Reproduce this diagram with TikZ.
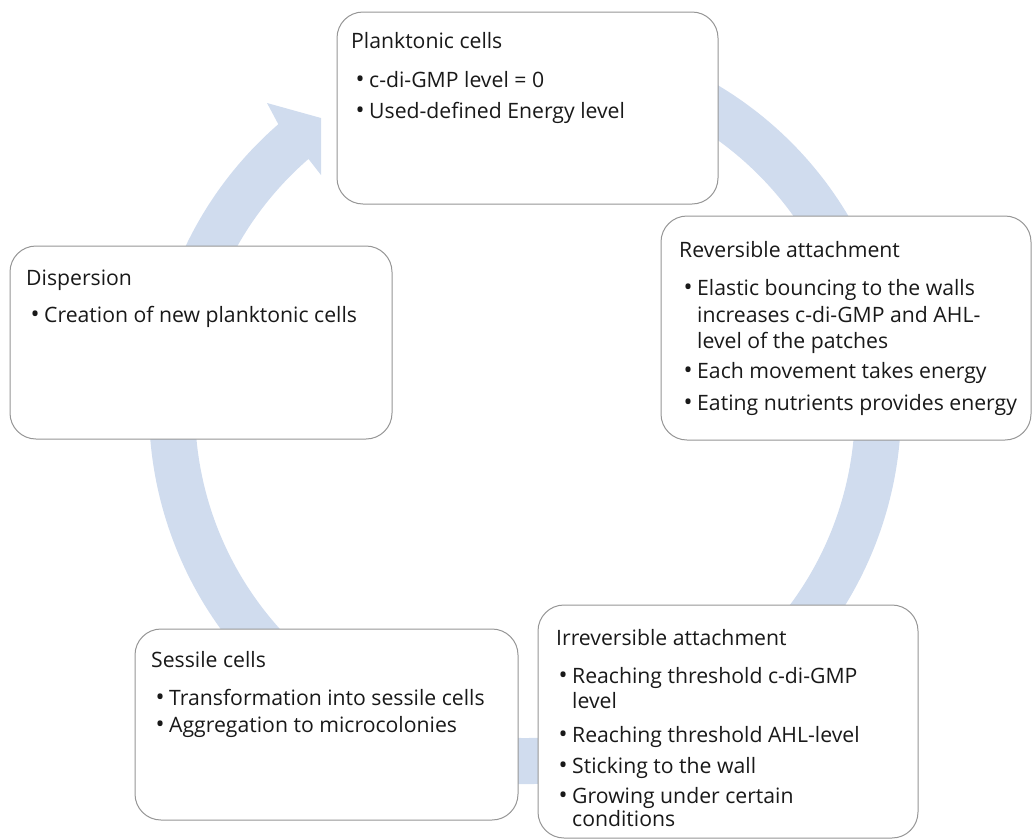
\documentclass[tikz,border=0pt]{standalone}
\usepackage{fontspec}
\setmainfont{Open Sans}
\usetikzlibrary{calc}
\definecolor{ringblue}{RGB}{208,220,238}
\definecolor{boxgray}{RGB}{150,150,150}
\definecolor{txt}{RGB}{25,25,25}
\newcommand{\bl}{\llap{\raisebox{-0.8pt}{\fontsize{24}{24}\selectfont •}\hspace{4.5pt}}}
\begin{document}
\begin{tikzpicture}[x=1pt,y=1pt,
  stage/.style={draw=boxgray, line width=1pt, fill=white, rounded corners=26pt, inner sep=0pt},
  ln/.style={anchor=base west, inner sep=0pt, text=txt, font=\fontsize{21.2}{24}\selectfont}]
\useasboundingbox (0,0) rectangle (1032,-839);
\coordinate (C) at (525,-408);
% circular arrow
\fill[ringblue] ($(C)+(110:376pt)$) arc[start angle=110, end angle=-229, radius=376pt]
  -- (267,-103) -- (321,-118) -- (321,-175) -- ($(C)+(-229:330pt)$)
  arc[start angle=-229, end angle=110, radius=330pt] -- cycle;
% boxes
\node[stage, minimum width=381pt, minimum height=192pt] (plank) at (527.5,-108) {};
\node[stage, minimum width=370pt, minimum height=224pt] (rev) at (846,-328) {};
\node[stage, minimum width=382pt, minimum height=193pt] (disp) at (201,-342.5) {};
\node[stage, minimum width=383pt, minimum height=191pt] (sess) at (326.5,-724.5) {};
\node[stage, minimum width=380pt, minimum height=233pt] (irr) at (728,-721.5) {};
% planktonic
\node[ln] (p0) at (351,-48) {Planktonic cells};
\node[ln] (p1) at (369,-87) {\bl c-di-GMP level = 0};
\node[ln] (p2) at (369,-118) {\bl Used-defined Energy level};
% reversible
\node[ln] (r0) at (679,-257) {Reversible attachment};
\node[ln] (r1) at (697,-295) {\bl Elastic bouncing to the walls};
\node[ln] (r2) at (697,-322) {increases c-di-GMP and AHL-};
\node[ln] (r3) at (697,-348) {level of the patches};
\node[ln] (r4) at (697,-378) {\bl Each movement takes energy};
\node[ln] (r5) at (697,-410) {\bl Eating nutrients provides energy};
% dispersion
\node[ln] (d0) at (26,-285) {Dispersion};
\node[ln] (d1) at (44,-322) {\bl Creation of new planktonic cells};
% sessile
\node[ln] (s0) at (151,-667) {Sessile cells};
\node[ln] (s1) at (169,-705) {\bl Transformation into sessile cells};
\node[ln] (s2) at (169,-732) {\bl Aggregation to microcolonies};
% irreversible
\node[ln] (i0) at (556,-645) {Irreversible attachment};
\node[ln] (i1) at (572,-683) {\bl Reaching threshold c-di-GMP};
\node[ln] (i2) at (572,-708) {level};
\node[ln] (i3) at (572,-742) {\bl Reaching threshold AHL-level};
\node[ln] (i4) at (572,-773) {\bl Sticking to the wall};
\node[ln] (i5) at (572,-803) {\bl Growing under certain};
\node[ln] (i6) at (572,-826) {conditions};
\end{tikzpicture}
\end{document}
